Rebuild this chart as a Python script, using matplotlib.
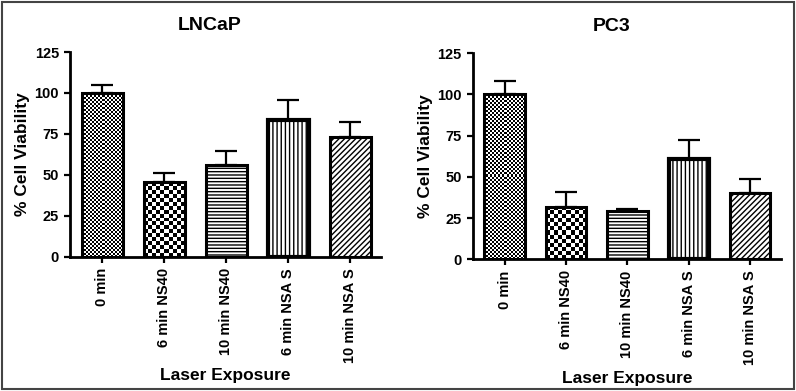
import numpy as np
import matplotlib
matplotlib.use("Agg")
import matplotlib.pyplot as plt
from matplotlib.patches import Rectangle

plt.rcParams['font.family'] = ['Liberation Sans', 'DejaVu Sans']
plt.rcParams['font.weight'] = 'bold'
plt.rcParams['hatch.linewidth'] = 1.0

categories = ['0 min', '6 min NS40', '10 min NS40', '6 min NSA S', '10 min NSA S']
lncap_mean = [100.0, 45.7, 56.3, 83.5, 73.0]
lncap_err = [5.0, 5.5, 8.0, 12.2, 9.5]
pc3_mean = [100.0, 31.7, 29.3, 60.9, 40.4]
pc3_err = [8.0, 9.0, 1.2, 11.5, 8.3]
yticks = [0, 25, 50, 75, 100, 125]

# fill style per bar: ('checker', px size) or hatch string
fills = [('checker', 2), ('checker', 4), '-----', '||||', '//////']
edge_w = [2.2, 2.2, 2.2, 3.0, 2.2]


def checker_fill(ax, patch, sq_px):
    # checkerboard image clipped to bar, square size in pixels
    x0, w, h = patch.get_x(), patch.get_width(), patch.get_height()
    p0 = ax.transData.transform((x0, 0))
    p1 = ax.transData.transform((x0 + w, h))
    ncol = max(1, int(round((p1[0] - p0[0]) / sq_px)))
    nrow = max(1, int(round((p1[1] - p0[1]) / sq_px)))
    ii, jj = np.indices((nrow, ncol))
    img = ((ii + jj) % 2).astype(float)
    im = ax.imshow(img, extent=(x0, x0 + w, 0, h), cmap='gray', aspect='auto',
                   interpolation='nearest', origin='lower', zorder=1)
    im.set_clip_path(patch)


def panel(ax, title, means, errs):
    x = np.arange(len(categories))
    ax.set_xlim(-0.52, 4.5)
    ax.set_ylim(0, 125)
    bars = ax.bar(x, means, width=0.66, color='white', edgecolor='black',
                  linewidth=edge_w, zorder=2)
    for b, f in zip(bars, fills):
        if isinstance(f, tuple):
            b.set_facecolor('none')
            b.set_zorder(3)
            checker_fill(ax, b, f[1])
        else:
            b.set_hatch(f)
    ax.errorbar(x, means, yerr=[np.zeros(len(errs)), errs], fmt='none',
                ecolor='black', elinewidth=1.6, capsize=8, capthick=1.6, zorder=1.5)
    ax.set_xlim(-0.52, 4.5)
    ax.set_ylim(0, 125)

    for s in ['top', 'right']:
        ax.spines[s].set_visible(False)
    for s in ['left', 'bottom']:
        ax.spines[s].set_linewidth(2.0)
    ax.set_yticks(yticks)
    ax.set_xticks(x)
    ax.set_xticklabels(categories, rotation=90, fontsize=10.5, fontweight='bold')
    ax.tick_params(axis='both', width=1.6, length=4.5, labelsize=10.5)
    for lab in ax.get_yticklabels():
        lab.set_fontweight('bold')
    ax.set_title(title, fontsize=14, fontweight='bold', x=0.45, pad=16)
    ax.set_ylabel('% Cell Viability', fontsize=12.5, fontweight='bold')
    ax.set_xlabel('Laser Exposure', fontsize=12.5, fontweight='bold')
    ax.yaxis.set_label_coords(-0.13, 0.5)
    ax.xaxis.set_label_coords(0.5, -0.54)


fig = plt.figure(figsize=(7.96, 3.91), dpi=100)
ax1 = fig.add_axes([0.088, 0.343, 0.391, 0.524])
ax2 = fig.add_axes([0.594, 0.337, 0.387, 0.527])
panel(ax1, 'LNCaP', lncap_mean, lncap_err)
panel(ax2, 'PC3', pc3_mean, pc3_err)

fig.patches.append(Rectangle((0.003, 0.006), 0.994, 0.988, transform=fig.transFigure,
                             fill=False, edgecolor='#444444', linewidth=1.5))

fig.savefig('out.png', dpi=100)
